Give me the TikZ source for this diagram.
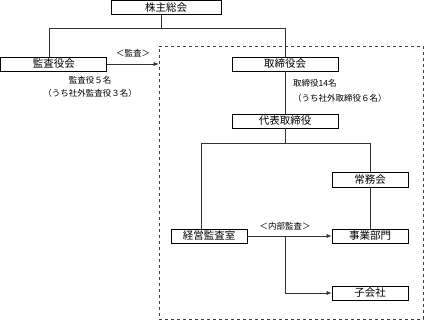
\documentclass[tikz,border=0pt]{standalone}
\usepackage{fontspec}
\setmainfont{Noto Sans CJK JP}
\usetikzlibrary{positioning, arrows.meta}
\tikzset{
  orgbox/.style={draw=black, line width=0.7pt, fill=white, minimum height=14pt, inner sep=1pt,
    font=\fontsize{10.5}{12}\selectfont},
  notetxt/.style={font=\fontsize{8.5}{13}\selectfont, inner sep=1pt, align=center},
  lnk/.style={line width=0.6pt, black!80},
  arr/.style={-{Latex[length=5pt,width=4pt]}, line width=0.6pt, black!80},
  mgmtarea/.style={draw=black!75, dashed, line width=0.6pt, inner sep=0pt},
}

\begin{document}
\begin{tikzpicture}[x=1pt, y=-1pt]
  \useasboundingbox (0,0) rectangle (425,321);
  % executive side
  \node[mgmtarea, minimum width=264pt, minimum height=273pt] (mgmt) at (291,182.5) {};
  % boxes
  \node[orgbox, minimum width=110pt] (agm) at (166,7.5) {株主総会};
  \node[orgbox, minimum width=106pt] (auditboard) at (53.8,64) {監査役会};
  \node[orgbox, minimum width=106pt] (board) at (285,64) {取締役会};
  \node[orgbox, minimum width=106pt] (rep) at (285,121) {代表取締役};
  \node[orgbox, minimum width=76pt, minimum height=15pt] (exec) at (370,179.5) {常務会};
  \node[orgbox, minimum width=76pt] (auditoff) at (209,236) {経営監査室};
  \node[orgbox, minimum width=76pt] (biz) at (370,236) {事業部門};
  \node[orgbox, minimum width=76pt] (subs) at (370,293) {子会社};
  % notes
  \node[notetxt] (auditnote) at (90,86.5) {監査役５名\\（うち社外監査役３名）};
  \node[notetxt, anchor=north west, align=left] (boardnote) at (292,78.5)
    {取締役14名\\[2pt]（うち社外取締役６名）};
  \node[notetxt] (auditlbl) at (133,53) {＜監査＞};
  \node[notetxt] (intlbl) at (285,226) {＜内部監査＞};
  % links
  \coordinate (tL) at (49,28);
  \coordinate (tM) at (161,28);
  \coordinate (tR) at (285,28);
  \draw[lnk] (agm.south -| tM) -- (tM);
  \draw[lnk] (auditboard.north -| tL) -- (tL) -- (tR) -- (board.north);
  \draw[lnk] (board.south) -- (rep.north);
  \coordinate (mL) at (201,143);
  \coordinate (mR) at (370,143);
  \draw[lnk] (rep.south) -- (rep.south |- mL);
  \draw[lnk] (auditoff.north -| mL) -- (mL) -- (mR) -- (exec.north);
  \draw[lnk] (exec.south) -- (biz.north);
  \draw[arr] (auditboard.east) -- (auditboard.east -| mgmt.west);
  \draw[arr] (auditoff.east) -- (biz.west);
  \coordinate (br) at (285,236);
  \draw[arr] (br) |- (subs.west);
\end{tikzpicture}
\end{document}
